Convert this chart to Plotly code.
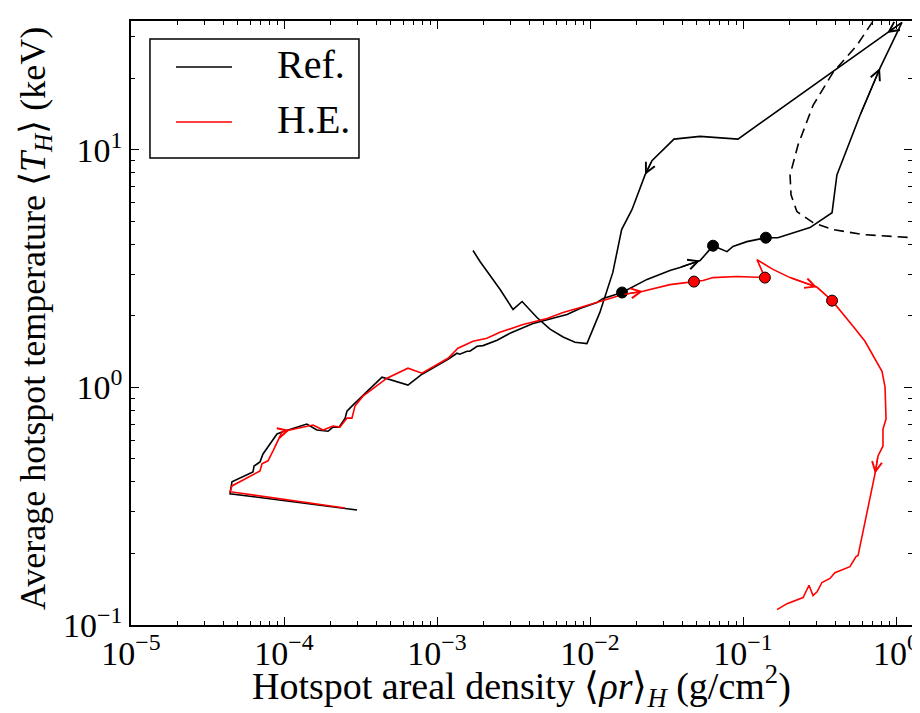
import numpy as np
import plotly.graph_objects as go

# ---- Data ----
ref_rhor = [3.0e-4, 4.44e-5, 4.57e-5, 6.27e-5, 6.37e-5, 6.97e-5, 7.29e-5, 9.0e-5, 9.7e-5, 1.41e-4,
            1.64e-4, 1.94e-4, 2.09e-4, 2.29e-4, 2.51e-4, 2.58e-4, 2.82e-4, 4.37e-4, 6.46e-4, 7.98e-4,
            1.18e-3, 1.35e-3, 1.41e-3, 1.57e-3, 1.64e-3, 1.83e-3, 2.0e-3, 2.47e-3, 3.0e-3, 4.24e-3,
            5.48e-3, 7.08e-3, 8.6e-3, 1.11e-2, 1.22e-2, 1.62e-2, 2.36e-2, 3.33e-2, 3.87e-2, 5.24e-2,
            5.9e-2, 6.37e-2, 7.86e-2, 8.6e-2, 0.106, 0.1235, 0.141, 0.169, 0.274, 0.382,
            0.411, 0.582, 0.786, 1.094, 0.0927, 0.0524, 0.0354, 0.0254, 0.0229, 0.0188,
            0.0161, 0.0141, 0.0116, 9.55e-3, 7.98e-3, 6.67e-3, 5.48e-3, 4.5e-3, 3.88e-3, 3.6e-3,
            3.14e-3, 2.58e-3, 1.91e-3, 1.72e-3]
ref_T = [0.305, 0.357, 0.401, 0.441, 0.467, 0.486, 0.525, 0.637, 0.649, 0.701,
         0.662, 0.654, 0.681, 0.681, 0.743, 0.795, 0.843, 1.105, 1.023, 1.137,
         1.314, 1.393, 1.38, 1.42, 1.42, 1.49, 1.50, 1.58, 1.69, 1.86,
         1.94, 2.03, 2.15, 2.28, 2.37, 2.51, 2.85, 3.11, 3.20, 3.42,
         3.73, 3.95, 3.73, 3.92, 4.11, 4.19, 4.27, 4.27, 4.71, 5.44,
         7.85, 14.0, 22.1, 34.4, 11.1, 11.4, 11.1, 9.0, 7.85, 5.60,
         4.62, 3.05, 2.07, 1.53, 1.55, 1.63, 1.76, 1.97, 2.19, 2.30,
         2.13, 2.59, 3.39, 3.77]

he_rhor = [2.5e-4, 4.44e-5, 4.57e-5, 6.97e-5, 7.18e-5, 7.86e-5, 8.48e-5, 9.7e-5, 1.09e-4, 1.55e-4,
           1.80e-4, 2.09e-4, 2.32e-4, 2.58e-4, 2.78e-4, 2.91e-4, 3.28e-4, 4.71e-4, 6.46e-4, 7.98e-4,
           1.18e-3, 1.37e-3, 1.72e-3, 2.12e-3, 2.58e-3, 3.14e-3, 3.65e-3, 5.24e-3, 6.67e-3, 8.22e-3,
           1.16e-2, 1.64e-2, 2.22e-2, 3.33e-2, 4.78e-2, 5.48e-2, 6.37e-2, 9.14e-2, 0.139, 0.1235,
           0.157, 0.203, 0.305, 0.382, 0.524, 0.627, 0.810, 0.848, 0.861, 0.822,
           0.822, 0.763, 0.729, 0.565, 0.548, 0.500, 0.399, 0.370, 0.328, 0.305,
           0.287, 0.270, 0.247, 0.194, 0.167]
he_T = [0.311, 0.364, 0.385, 0.445, 0.477, 0.491, 0.541, 0.649, 0.662, 0.695,
        0.662, 0.688, 0.681, 0.743, 0.743, 0.835, 0.919, 1.094, 1.205, 1.148,
        1.327, 1.462, 1.564, 1.61, 1.706, 1.774, 1.84, 1.95, 2.07, 2.15,
        2.30, 2.46, 2.54, 2.71, 2.79, 2.82, 2.90, 2.93, 2.90, 3.45,
        3.14, 2.90, 2.64, 2.32, 1.81, 1.564, 1.17, 1.003, 0.736, 0.668,
        0.567, 0.515, 0.433, 0.196, 0.194, 0.176, 0.166, 0.157, 0.151, 0.138,
        0.133, 0.147, 0.1305, 0.123, 0.116]

thr_rhor = [0.835, 0.707, 0.556, 0.388, 0.287, 0.229, 0.203, 0.206, 0.225, 0.287, 0.388, 0.608, 1.27]
thr_T = [38.7, 34.8, 27.6, 21.2, 15.4, 10.5, 7.85, 6.47, 5.50, 4.94, 4.62, 4.40, 4.27]

ref_dot_idx = [35, 41, 46]
he_dot_idx = [34, 38, 43]

# arrows: (segment start index, fraction along the segment where the head sits)
ref_arrows = [(38, 1.0), (51, 1.0), (53, 0.09), (57, 1.0)]
he_arrows = [(7, 1.0), (31, 1.0), (41, 1.0), (51, 1.0)]

x_tickvals = [1e-5, 1e-4, 1e-3, 1e-2, 1e-1, 1e0]
x_ticktext = ["10<sup>\u22125</sup>", "10<sup>\u22124</sup>", "10<sup>\u22123</sup>",
              "10<sup>\u22122</sup>", "10<sup>\u22121</sup>", "10<sup>0</sup>"]
y_tickvals = [1e-1, 1e0, 1e1]
y_ticktext = ["10<sup>\u22121</sup>", "10<sup>0</sup>", "10<sup>1</sup>"]
legend_names = ["Ref.", "H.E."]
legend_colors = ["black", "red"]

FONT = "Liberation Serif"
fig = go.Figure()

fig.add_trace(go.Scatter(x=thr_rhor, y=thr_T, mode="lines", showlegend=False,
                         line=dict(color="black", width=1.6, dash="10px,6px")))
fig.add_trace(go.Scatter(x=ref_rhor, y=ref_T, mode="lines", name="Ref.", showlegend=False,
                         line=dict(color="black", width=1.6)))
fig.add_trace(go.Scatter(x=he_rhor, y=he_T, mode="lines", name="H.E.", showlegend=False,
                         line=dict(color="red", width=1.6)))
fig.add_trace(go.Scatter(x=[ref_rhor[i] for i in ref_dot_idx], y=[ref_T[i] for i in ref_dot_idx],
                         mode="markers", showlegend=False,
                         marker=dict(color="black", size=11, line=dict(color="black", width=1))))
fig.add_trace(go.Scatter(x=[he_rhor[i] for i in he_dot_idx], y=[he_T[i] for i in he_dot_idx],
                         mode="markers", showlegend=False,
                         marker=dict(color="red", size=11, line=dict(color="black", width=1))))

annotations = []
for xs, ys, arrows, col in [(ref_rhor, ref_T, ref_arrows, "black"), (he_rhor, he_T, he_arrows, "red")]:
    lx, ly = np.log10(xs), np.log10(ys)
    for i, f in arrows:
        hx = lx[i] + f * (lx[i + 1] - lx[i])
        hy = ly[i] + f * (ly[i + 1] - ly[i])
        annotations.append(dict(
            x=hx, y=hy, ax=lx[i], ay=ly[i],
            xref="x", yref="y", axref="x", ayref="y", text="", showarrow=True,
            arrowhead=5, arrowsize=1.5, arrowwidth=1.3, arrowcolor=col, standoff=0))

# axis titles
annotations.append(dict(
    text="Hotspot areal density \u27e8<i>\u03c1r</i>\u27e9<sub><i>H</i></sub> (g/cm<sup>2</sup>)",
    xref="paper", yref="paper", x=0.5, y=-0.101, xanchor="center", yanchor="middle",
    showarrow=False, font=dict(family=FONT, size=38, color="black")))
annotations.append(dict(
    text="Average hotspot temperature \u27e8<i>T<sub>H</sub></i>\u27e9 (keV)",
    xref="paper", yref="paper", x=-0.123, y=0.508, xanchor="center", yanchor="middle",
    textangle=-90, showarrow=False, font=dict(family=FONT, size=36, color="black")))

# legend box (drawn in paper coordinates)
shapes = [dict(type="rect", xref="paper", yref="paper", x0=0.0243, x1=0.2919, y0=0.7732, y1=0.9702,
               line=dict(color="black", width=1.5), fillcolor="white", layer="above")]
row_y = [0.9238, 0.8328]
for name, col, yy in zip(legend_names, legend_colors, row_y):
    shapes.append(dict(type="line", xref="paper", yref="paper", x0=0.0576, x1=0.1293, y0=yy, y1=yy,
                       line=dict(color=col, width=1.6), layer="above"))
    annotations.append(dict(text=name, xref="paper", yref="paper", x=0.1844, y=yy + 0.004,
                            xanchor="left", yanchor="middle", showarrow=False,
                            font=dict(family=FONT, size=40, color="black")))

minor_vals = [m * 10.0 ** e for e in range(-5, 2) for m in range(2, 10)]

axis_common = dict(type="log", showgrid=False, zeroline=False, showline=True, linecolor="black",
                   linewidth=1.5, mirror="allticks", ticks="inside", ticklen=8, tickwidth=1.2,
                   tickcolor="black", automargin=False,
                   minor=dict(ticks="inside", ticklen=4, tickwidth=1, tickcolor="black",
                              showgrid=False, tickvals=minor_vals),
                   tickfont=dict(family=FONT, size=34, color="black"))

fig.update_layout(
    width=920, height=713,
    margin=dict(l=123, r=16, t=13, b=96),
    paper_bgcolor="white", plot_bgcolor="white",
    font=dict(family=FONT, color="black"),
    annotations=annotations, shapes=shapes,
    showlegend=False,
    xaxis=dict(axis_common, range=[-5, 0.1046], tickvals=x_tickvals, ticktext=x_ticktext,
               ticklabelstandoff=-3),
    yaxis=dict(axis_common, range=[-1, 1.5426], tickvals=y_tickvals, ticktext=y_ticktext),
)

fig.write_html("out.html")
